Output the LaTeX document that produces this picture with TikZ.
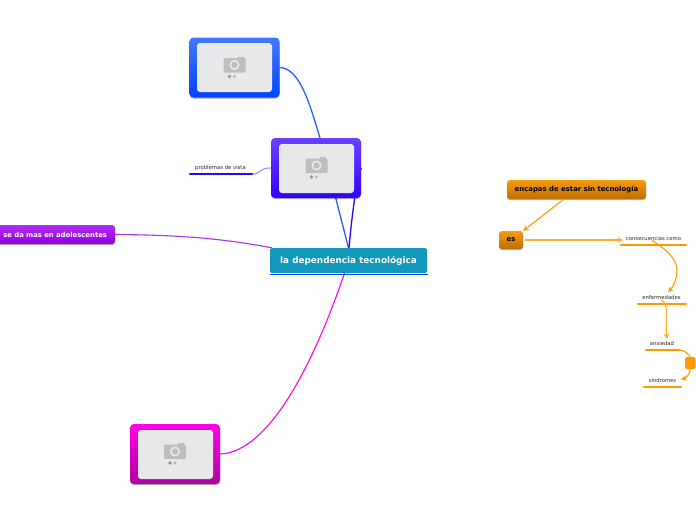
\documentclass[tikz,border=0pt]{standalone}
\usepackage{fontspec}
\setmainfont{DejaVu Sans}
\usetikzlibrary{arrows.meta,shadows,calc}
\pgfdeclarelayer{bg}
\pgfsetlayers{bg,main}
\definecolor{oran}{HTML}{FF9900}
\definecolor{orA}{HTML}{F59C0C}
\definecolor{orB}{HTML}{BE6E00}
\definecolor{blueA}{HTML}{4478FF}
\definecolor{blueB}{HTML}{0044FF}
\definecolor{violA}{HTML}{6C40FF}
\definecolor{violB}{HTML}{3300FF}
\definecolor{magA}{HTML}{FF00E8}
\definecolor{magB}{HTML}{B0009E}
\definecolor{purA}{HTML}{B22CF8}
\definecolor{purB}{HTML}{9200E0}
\definecolor{tealbox}{HTML}{1198BA}
\definecolor{photo}{HTML}{E7E8EA}
\definecolor{camera}{HTML}{BDBEC0}
\tikzset{
  softshadow/.style={drop shadow={shadow xshift=0pt,shadow yshift=-1.2pt,opacity=.3,fill=black}},
  imgbox/.style={minimum width=90pt,minimum height=60pt,rounded corners=4pt,inner sep=0pt,softshadow},
  photobox/.style={fill=photo,minimum width=75pt,minimum height=49pt,rounded corners=3pt,inner sep=0pt},
  orbox/.style={top color=orA,bottom color=orB,rounded corners=3pt,inner sep=0pt,softshadow,text=black,font=\bfseries\fontsize{6.9}{8}\selectfont},
  sub/.style={inner sep=0pt,font=\fontsize{5.3}{6}\selectfont,text=black!85,anchor=south,text depth=0pt},
  uline/.style={line width=2.4pt,line cap=round},
  link/.style={line width=1.1pt},
  arrowlink/.style={link,oran,-{Stealth[length=5.5pt,width=5.5pt]}},
  pics/camera/.style={code={
    \fill[camera,rounded corners=1pt] (-11,-7) rectangle (11,7.5);
    \fill[camera] (3,-8.5) rectangle (9,-6);
    \draw[photo,line width=1.6pt] (0,0) circle (4.2pt);
    \fill[black!42] (-5,11.5) circle (1.8pt);
    \fill[black!28] (0,11.5) circle (1.7pt);
    \fill[black!6] (5,11.5) circle (1.4pt);
  }}
}
\begin{document}
\begin{tikzpicture}[x=1pt,y=-1pt]
\useasboundingbox (0,0) rectangle (696,520);
% central and branches
\node[fill=tealbox,rounded corners=1.5pt,minimum width=157pt,minimum height=25pt,inner sep=0pt,text=white,font=\bfseries\fontsize{8.85}{10}\selectfont] (root) at (348.5,260.5) {la dependencia tecnológica};
\draw[blueB,line width=1.2pt] (root.south west)++(0,1.3) -- ($(root.south east)+(1,1.3)$);

\node[imgbox,top color=blueA,bottom color=blueB] (imgA) at (234.5,67.5) {};
\node[photobox] (photoA) at (234.5,67.5) {};
\pic at (234.5,65) {camera};

\node[imgbox,top color=violA,bottom color=violB] (imgB) at (316,168) {};
\node[photobox] (photoB) at (316.5,168.5) {};
\pic at (316.5,165.5) {camera};

\node[imgbox,top color=magA,bottom color=magB] (imgC) at (175,454) {};
\node[photobox] (photoC) at (175.5,454.5) {};
\pic at (175,451.5) {camera};

\node[top color=purA,bottom color=purB,rounded corners=3pt,inner sep=0pt,minimum width=130pt,minimum height=19pt,softshadow,text=white,font=\bfseries\fontsize{6.85}{8}\selectfont,text width=122pt,align=right] (adol) at (50,234.5) {se da mas en adolescentes\hspace*{4pt}};

\node[sub] (vista) at (220.5,169.5) {problemas de vista};
\coordinate (vistaL) at (190,174);
\coordinate (vistaR) at (252,174);
\draw[violB,uline] (vistaL) -- (vistaR);

\begin{pgfonlayer}{bg}
\draw[blueB!85!white,line width=1.3pt] (imgA.east) .. controls (300,68) and (310,105) .. (320,138) .. controls (330,175) and (340,215) .. (root.north);
\draw[violB,line width=1.3pt] (imgB.east) .. controls (356,180) and (351,225) .. ($(root.north)+(0.5,0)$);
\draw[violB!45!white,link] (vistaR) .. controls (262,174) and (258,168) .. (imgB.west);
\draw[purB!80!white,link] (adol.east) .. controls (190,235) and (230,240) .. ($(root.north west)+(2,0)$);
\draw[magA,link] (imgC.east) .. controls (270,452) and (315,360) .. ($(root.south)+(-4,0)$);
\end{pgfonlayer}

% right part
\node[orbox,minimum width=139pt,minimum height=19pt] (enc) at (576.5,189.5) {encapas de estar sin tecnología};
\coordinate (encOut) at (564,199);
\node[orbox,minimum width=24pt,minimum height=18pt] (es) at (511,240) {es};

\node[sub] (cons) at (653.5,240.5) {consecuencias como};
\node[sub] (enf) at (661.5,300) {enfermedades};
\node[sub] (ans) at (662,346) {ansiedad};
\node[sub] (sin) at (662.5,383) {síndromes};
\coordinate (consIn) at (623,240);
\coordinate (consL) at (621,245);\coordinate (consR) at (686,245);
\coordinate (enfL) at (638,304);\coordinate (enfR) at (686,304);
\coordinate (ansL) at (646,350);\coordinate (ansR) at (679,350);
\coordinate (sinL) at (644,387);\coordinate (sinR) at (681,387);
\draw[oran,uline] (consL) -- (consR);
\draw[oran,uline] (enfL) -- (enfR);
\draw[oran,uline] (ansL) -- (ansR);
\draw[oran,uline] (sinL) -- (sinR);
\node[fill=oran,rounded corners=1.5pt,minimum width=10.5pt,minimum height=12pt,inner sep=0pt] (small) at (690.3,363) {};

\draw[arrowlink] (encOut) -- (es.north east);
\draw[arrowlink,oran!80!white] ($(es.east)+(2,0)$) -- (consIn);
\draw[arrowlink] ($(cons.south)+(-1.5,0)$) .. controls (664,248) and (678,258) .. (677,272) .. controls (676,281) and (673,287) .. (668,292);
\draw[arrowlink,oran!85!white] (enf.south) .. controls (670,305) and (665,320) .. (667,339);
\draw[link,oran] (ansR) .. controls (684,350) and (687,353) .. (small.north);
\draw[arrowlink] (small.south) .. controls (690,374) and (686,378) .. (681,379.5);
\end{tikzpicture}
\end{document}
